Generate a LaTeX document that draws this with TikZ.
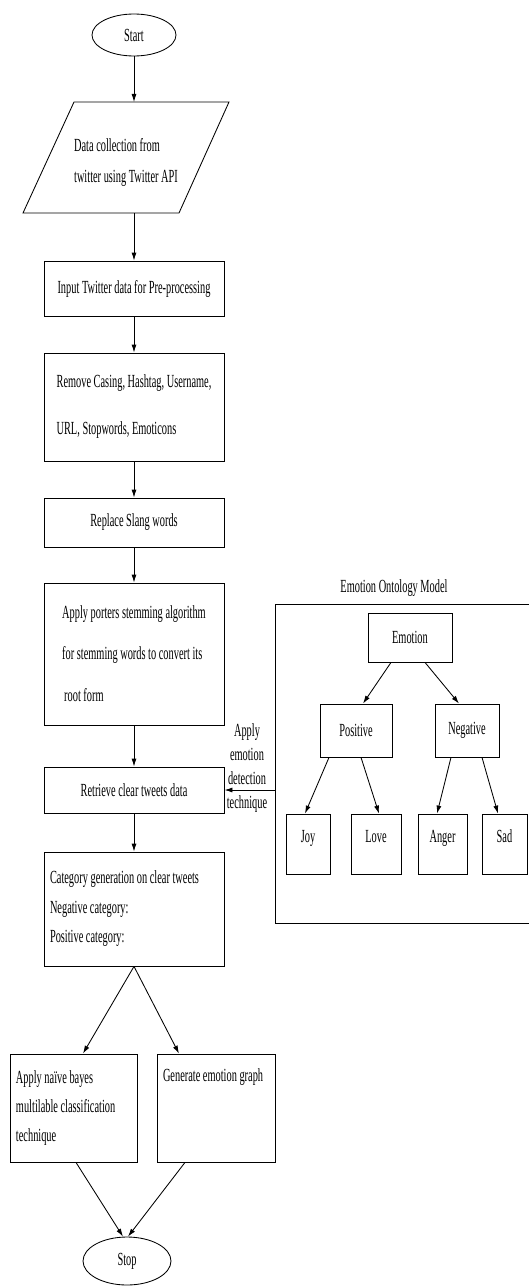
\documentclass[tikz,border=0pt]{standalone}
\usepackage{fontspec}
\setmainfont[FakeStretch=0.56]{Liberation Serif}
\usetikzlibrary{positioning}
\usetikzlibrary{shapes.geometric}
\usetikzlibrary{arrows.meta}
\usetikzlibrary{math}
\usetikzlibrary{calc}

\begin{document}
\begin{tikzpicture}[x=1pt,y=-1pt,line width=0.3mm,
  every node/.style={font=\fontsize{18.5}{20}\selectfont,
    execute at begin node=\spaceskip0pt\xspaceskip0pt\relax},
  flowbox/.style={draw,rectangle,inner sep=6pt,minimum width=180pt},
  treebox/.style={draw,rectangle,inner sep=3pt},
  leafbox/.style={treebox,minimum height=60pt,text depth=16pt},
  terminal/.style={draw,ellipse},
  flowline/.style={-{Latex[length=8pt,width=5pt]}}]

  \tikzmath{
    \colx = 134;   % centre of the main column
    \ontx = 402.5; % centre of the ontology frame
  }

  \useasboundingbox (0,0) rectangle (528,1287);

  % Start
  \node[terminal, minimum width=84pt, minimum height=42pt] (start) at (\colx, 35) {Start};

  % Data collection (parallelogram)
  \coordinate (dataTL) at (74, 102);
  \coordinate (dataTR) at (229, 102);
  \coordinate (dataBR) at (179, 213);
  \coordinate (dataBL) at (23, 213);
  \draw (dataTL) -- (dataTR) -- (dataBR) -- (dataBL) -- cycle;
  \node[align=left] (data) at (126, 162) {Data collection from\\[11pt]twitter using Twitter API};

  % Pre-processing steps
  \node[flowbox, minimum height=55pt] (input) at (\colx, 288.5) {Input Twitter data for Pre-processing};
  \node[flowbox, minimum height=108pt, align=left] (clean) at (\colx, 407)
  {Remove Casing, Hashtag, Username,\\[27pt]URL, Stopwords, Emoticons};
  \node[flowbox, minimum height=49pt] (slang) at (\colx, 522.5) {Replace Slang words};
  \node[flowbox, minimum height=142pt, align=left] (stem) at (\colx, 654)
  {Apply porters stemming algorithm\\[21pt]for stemming words to convert its\\[22pt]\hspace{2pt}root form};
  \node[flowbox, minimum height=46pt] (retrieve) at (\colx, 790) {Retrieve clear tweets data};
  \node[flowbox, minimum height=114pt, text width=168pt, align=left] (category) at (\colx, 909)
  {Category generation on clear tweets\\[10pt]Negative category:\\[9pt]Positive category:};

  % Classification and graph
  \node[flowbox, minimum width=0pt, minimum height=108pt, text width=115pt, align=left] (naive) at (73.5, 1108)
  {Apply naïve bayes\\[9pt]multilable classification\\[9pt]technique};
  \node[flowbox, minimum width=0pt, text width=106pt, text height=21pt, text depth=75pt, align=left] (graph) at (216, 1108)
  {Generate emotion graph};

  % Stop
  \node[terminal, minimum width=88pt, minimum height=48pt] (stop) at (127, 1261) {Stop};

  % main flow
  \draw[flowline] (start) -- (start.south |- dataTL);
  \draw[flowline] (input.north |- dataBL) -- (input);
  \draw[flowline] (input) -- (clean);
  \draw[flowline] (clean) -- (slang);
  \draw[flowline] (slang) -- (stem);
  \draw[flowline] (stem) -- (retrieve);
  \draw[flowline] (retrieve) -- (category);
  \draw[flowline] (category.south) -- ($(naive.north)+(9.5,0)$);
  \draw[flowline] (category.south) -- ($(graph.north)+(-37,0)$);
  \draw[flowline] ($(naive.south)+(2.5,0)$) -- ($(stop.north)+(-4,0)$);
  \draw[flowline] ($(graph.south)+(-31,0)$) -- ($(stop.north)+(1,0)$);

  % Emotion ontology model
  \node (ontotitle) at (394, 588) {Emotion Ontology Model};
  \node[draw, minimum width=255pt, minimum height=319pt] (ontology) at (\ontx, 763.5) {};

  \node[treebox, minimum width=84pt, minimum height=49pt] (emotion) at (410, 637.5) {Emotion};
  \node[treebox, minimum width=72pt, minimum height=53pt] (positive) at (356, 730.5) {Positive};
  \node[treebox, minimum width=64pt, minimum height=53pt] (negative) at (467, 730.5) {Negative};
  \node[leafbox, minimum width=44pt] (joy) at (308, 844) {Joy};
  \node[leafbox, minimum width=50pt] (love) at (376, 844) {Love};
  \node[leafbox, minimum width=49pt] (anger) at (442.5, 844) {Anger};
  \node[leafbox, minimum width=45pt] (sad) at (504.5, 844) {Sad};

  \draw[flowline] ($(emotion.south)+(-19,0)$) -- ($(positive.north)+(7,0)$);
  \draw[flowline] ($(emotion.south)+(15,0)$) -- ($(negative.north)+(-8,0)$);
  \draw[flowline] ($(positive.south)+(-27,0)$) -- ($(joy.north)+(-3,0)$);
  \draw[flowline] ($(positive.south)+(5,0)$) -- ($(love.north)+(3,0)$);
  \draw[flowline] ($(negative.south)+(-16,0)$) -- ($(anger.north)+(-5.5,0)$);
  \draw[flowline] ($(negative.south)+(15,0)$) -- ($(sad.north)+(-6.5,0)$);

  % emotion detection feeding back into the main flow
  \node[align=center, font=\fontsize{18.5}{24}\selectfont] (applylabel) at (247, 768.5)
  {Apply\\emotion\\detection\\technique};
  \draw[flowline] (retrieve.east -| ontology.west) -- (retrieve.east);

\end{tikzpicture}
\end{document}
